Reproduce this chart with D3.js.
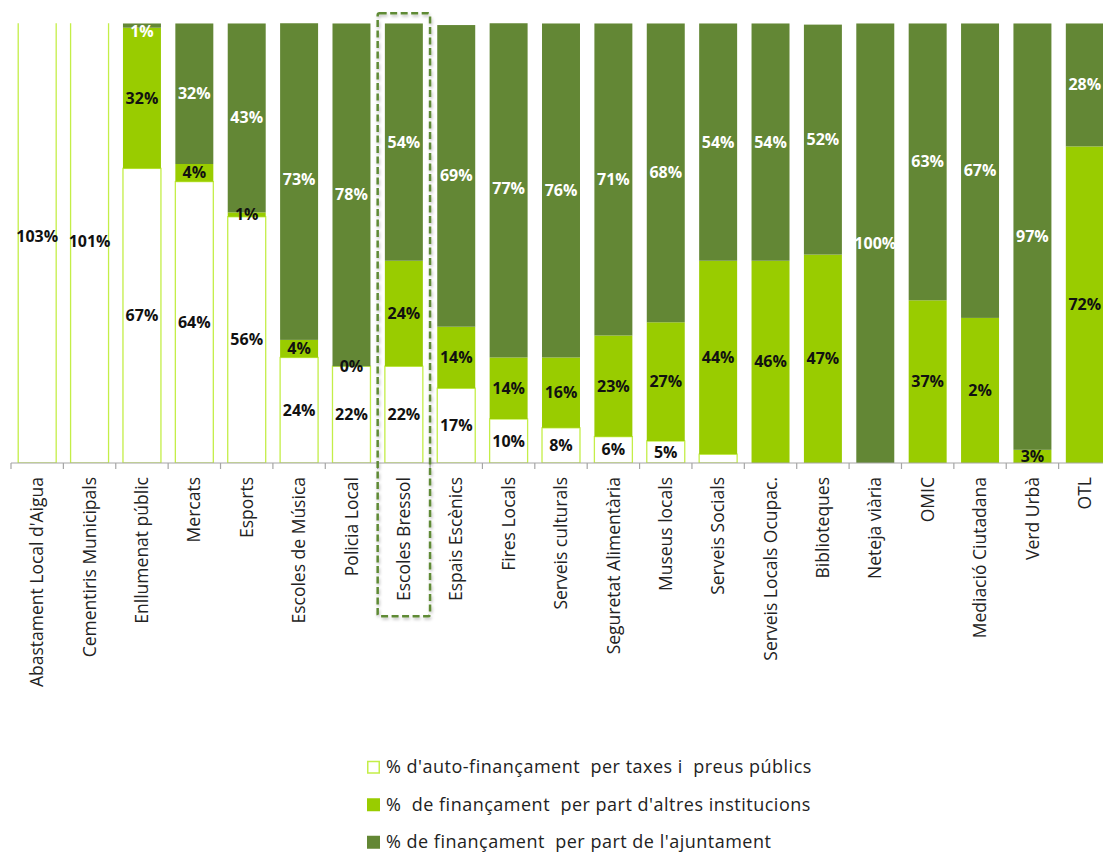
<!DOCTYPE html>
<html>
<head>
<meta charset="utf-8">
<script src="https://cdn.jsdelivr.net/npm/d3@7"></script>
<style>
    body { margin: 0; background: #fff; }
    svg { display: block; font-family: "Open Sans", sans-serif; }
</style>
</head>
<body>
<div id="chart"></div>
<script>
const CATEGORIES = ["Abastament Local d'Aigua", "Cementiris Municipals", "Enllumenat públic", "Mercats", "Esports",
    "Escoles de Música", "Policia Local", "Escoles Bressol", "Espais Escènics", "Fires Locals", "Serveis culturals",
    "Seguretat Alimentària", "Museus locals", "Serveis Socials", "Serveis Locals Ocupac.", "Biblioteques",
    "Neteja viària", "OMIC", "Mediació Ciutadana", "Verd Urbà", "OTL"];

// % d'auto-finançament per taxes i preus públics
const AUTO = [103, 101, 67, 64, 56, 24, 22, 22, 17, 10, 8, 6, 5, 2, 0, 0, 0, 0, 0, 0, 0];
// % de finançament per part d'altres institucions
const ALTRES = [0, 0, 32, 4, 1, 4, 0, 24, 14, 14, 16, 23, 27, 44, 46, 47.4, 0, 37, 33, 3, 72];
// % de finançament per part de l'ajuntament
const AJUNT = [0, 0, 1, 32, 43, 73, 78, 54, 68.6, 77, 76, 71, 68, 54, 54, 52.3, 100, 63, 67, 97, 28];

// data labels as printed on the chart
const AUTO_LABELS = ["103%", "101%", "67%", "64%", "56%", "24%", "22%", "22%", "17%", "10%", "8%", "6%", "5%", "", "", "", "", "", "", "", ""];
const ALTRES_LABELS = ["", "", "32%", "4%", "1%", "4%", "0%", "24%", "14%", "14%", "16%", "23%", "27%", "44%", "46%", "47%", "", "37%", "2%", "3%", "72%"];
const AJUNT_LABELS = ["", "", "1%", "32%", "43%", "73%", "78%", "54%", "69%", "77%", "76%", "71%", "68%", "54%", "54%", "52%", "100%", "63%", "67%", "97%", "28%"];

const LEGEND = ["% d'auto-finançament  per taxes i  preus públics",
    "%  de finançament  per part d'altres institucions",
    "% de finançament  per part de l'ajuntament"];

const HIGHLIGHT = "Escoles Bressol";

(function () {

    const width = 1103, height = 852;
    const baseY = 463, topY = 23.3;

    const series = [
        { key: "auto", values: AUTO, labels: AUTO_LABELS, fill: "#ffffff", stroke: "#c4ee48", text: "#111" },
        { key: "altres", values: ALTRES, labels: ALTRES_LABELS, fill: "#99cc00", stroke: "none", text: "#111" },
        { key: "ajunt", values: AJUNT, labels: AJUNT_LABELS, fill: "#638735", stroke: "none", text: "#fff" }
    ];

    const rows = CATEGORIES.map((c, i) => {
        const r = { cat: c };
        series.forEach(s => r[s.key] = s.values[i]);
        return r;
    });

    const stacked = d3.stack().keys(series.map(s => s.key))(rows);

    const xScale = d3.scaleBand()
        .domain(CATEGORIES)
        .range([11, 1111])
        .paddingInner(0.275)
        .paddingOuter(0.1375);

    const yScale = d3.scaleLinear().domain([0, 100]).range([baseY, topY]);

    const step = xScale.step();
    const slotX = c => xScale(c) - step * xScale.paddingInner() / 2;

    const svg = d3.select("#chart")
        .append("svg")
        .attr("width", width)
        .attr("height", height);

    const defs = svg.append("defs");
    defs.append("clipPath")
        .attr("id", "plot-clip")
        .append("rect")
        .attr("x", 0).attr("y", topY)
        .attr("width", width).attr("height", baseY - topY);

    const shadow = defs.append("filter").attr("id", "shadow")
        .attr("x", "-20%").attr("y", "-5%").attr("width", "140%").attr("height", "110%");
    shadow.append("feDropShadow")
        .attr("dx", 1).attr("dy", 2).attr("stdDeviation", 1.5)
        .attr("flood-color", "#000").attr("flood-opacity", 0.25);

    // bars
    const bars = svg.append("g").attr("clip-path", "url(#plot-clip)");
    stacked.forEach((layer, li) => {
        const s = series[li];
        bars.append("g")
            .selectAll("rect")
            .data(layer)
            .enter()
            .filter(d => d[1] - d[0] > 0)
            .append("rect")
            .attr("x", d => xScale(d.data.cat))
            .attr("y", d => yScale(d[1]))
            .attr("width", xScale.bandwidth())
            .attr("height", d => yScale(d[0]) - yScale(d[1]))
            .attr("fill", s.fill)
            .attr("stroke", s.stroke)
            .attr("stroke-width", s.stroke === "none" ? 0 : 1.3);
    });

    // axis
    const axis = svg.append("g").attr("stroke", "#a6a6a6").attr("stroke-width", 1.2);
    axis.append("line")
        .attr("x1", 11).attr("x2", width)
        .attr("y1", baseY).attr("y2", baseY);
    axis.selectAll("line.tick")
        .data(CATEGORIES)
        .enter()
        .append("line")
        .attr("class", "tick")
        .attr("x1", d => slotX(d)).attr("x2", d => slotX(d))
        .attr("y1", baseY).attr("y2", baseY + 6);

    // category labels
    svg.append("g")
        .selectAll("text")
        .data(CATEGORIES)
        .enter()
        .append("text")
        .attr("transform", d => `translate(${xScale(d) + xScale.bandwidth() / 2},${baseY + 14})rotate(-90)`)
        .attr("text-anchor", "end")
        .attr("dy", "0.35em")
        .attr("font-size", 17.5)
        .attr("fill", "#222")
        .text(d => d);

    // data labels
    const labels = svg.append("g")
        .attr("font-size", 16)
        .attr("font-weight", "bold")
        .attr("text-anchor", "middle");
    stacked.forEach((layer, li) => {
        const s = series[li];
        labels.append("g")
            .selectAll("text")
            .data(layer)
            .enter()
            .filter((d, i) => s.labels[i] !== "")
            .append("text")
            .attr("x", d => xScale(d.data.cat) + xScale.bandwidth() / 2)
            .attr("y", d => Math.max(yScale((d[0] + d[1]) / 2), topY + 8))
            .attr("dy", "0.35em")
            .attr("fill", s.text)
            .text(d => s.labels[CATEGORIES.indexOf(d.data.cat)]);
    });

    // highlighted category
    svg.append("rect")
        .attr("x", slotX(HIGHLIGHT))
        .attr("y", 13.3)
        .attr("width", step)
        .attr("height", 603)
        .attr("rx", 2)
        .attr("fill", "none")
        .attr("stroke", "#5e8a35")
        .attr("stroke-width", 2.5)
        .attr("stroke-dasharray", "7,3.5")
        .attr("filter", "url(#shadow)");

    // legend
    const legend = svg.append("g")
        .selectAll("g")
        .data(series)
        .enter()
        .append("g")
        .attr("transform", (d, i) => `translate(367,${767 + i * 37.5})`);
    legend.append("rect")
        .attr("x", 0.75).attr("y", -5.5)
        .attr("width", 11.5).attr("height", 11.5)
        .attr("fill", d => d.fill)
        .attr("stroke", d => d.stroke === "none" ? d.fill : d.stroke)
        .attr("stroke-width", 1.5);
    legend.append("text")
        .attr("x", 19)
        .attr("dy", "0.35em")
        .attr("font-size", 18)
        .attr("letter-spacing", 0.5)
        .attr("fill", "#222")
        .attr("xml:space", "preserve")
        .text((d, i) => LEGEND[i]);

})();
</script>
</body>
</html>
